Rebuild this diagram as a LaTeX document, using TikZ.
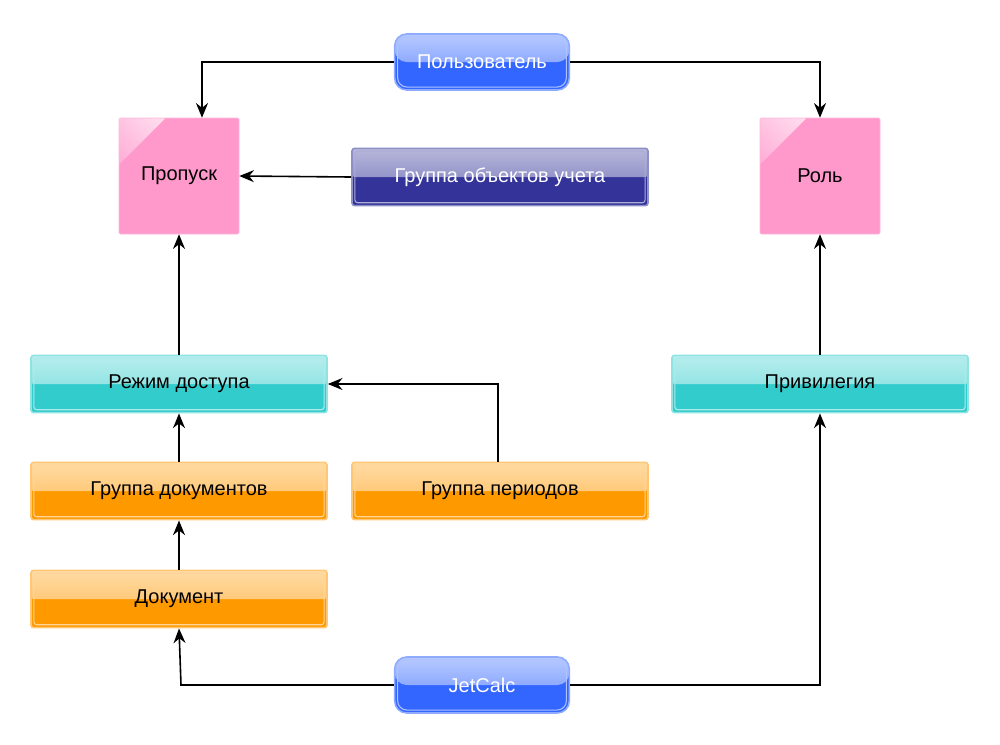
\documentclass[tikz,border=0pt]{standalone}
\usepackage{fontspec}
\setmainfont{Liberation Sans}
\usetikzlibrary{arrows.meta}
\definecolor{cblue}{HTML}{3366FF}
\definecolor{cnavy}{HTML}{333399}
\definecolor{cteal}{HTML}{33CCCC}
\definecolor{corange}{HTML}{FF9900}
\definecolor{cpink}{HTML}{FF99CC}
\tikzset{
  box/.style={minimum width=#1*0.75pt, text=black, font=\fontsize{15}{18}\selectfont, inner sep=0pt},
  glossy/.style={draw=#1!55, line width=1.2pt, fill=#1,
    path picture={
      \fill[top color=#1!35!white, bottom color=#1!70!white]
        (path picture bounding box.north west) rectangle ([yshift=0pt]path picture bounding box.east);
      \draw[white!60!#1, line width=0.8pt] ([shift={(2.2pt,-2.2pt)}]path picture bounding box.north west) rectangle ([shift={(-2.2pt,2.2pt)}]path picture bounding box.south east);
    }},
  rbox/.style={glossy=#1, minimum width=222pt, minimum height=43pt, rounded corners=2pt, font=\fontsize{15}{18}\selectfont, text=black},
  ubox/.style={draw=#1!55, line width=1.2pt, fill=#1, minimum height=42pt, rounded corners=9pt, text=white, font=\fontsize{15}{18}\selectfont,
    path picture={
      \fill[top color=#1!35!white, bottom color=#1!75!white]
        (path picture bounding box.north west) rectangle (path picture bounding box.east);
      \draw[white!60!#1, line width=0.8pt, rounded corners=7pt] ([shift={(2.2pt,-2.2pt)}]path picture bounding box.north west) rectangle ([shift={(-2.2pt,2.2pt)}]path picture bounding box.south east);
    }},
  pbox/.style={draw=cpink!70, fill=cpink, minimum width=90pt, minimum height=87pt, rounded corners=1pt, font=\fontsize{15}{18}\selectfont,
    path picture={\fill[left color=white, right color=cpink, shading angle=-45, opacity=0.9]
      (path picture bounding box.north west) -- ([xshift=35pt]path picture bounding box.north west) -- ([yshift=-35pt]path picture bounding box.north west) -- cycle;}},
  arr/.style={-{Stealth[length=11pt,width=9pt]}, line width=1.2pt}
}
\begin{document}
\begin{tikzpicture}[x=0.75pt,y=-0.75pt]
\useasboundingbox (0,0) rectangle (1000,744);
\node[ubox=cblue, minimum width=131pt] (user) at (482,62) {Пользователь};
\node[pbox] (prop) at (179,176) {Пропуск};
\node[pbox] (role) at (820,176) {Роль};
\node[rbox=cnavy, text=white] (gou) at (500,177) {Группа объектов учета};
\node[rbox=cteal] (rezh) at (179,384) {Режим доступа};
\node[rbox=cteal] (priv) at (820,384) {Привилегия};
\node[rbox=corange] (gdoc) at (179,491) {Группа документов};
\node[rbox=corange] (gper) at (500,491) {Группа периодов};
\node[rbox=corange] (doc) at (179,599) {Документ};
\node[ubox=cblue, minimum width=131pt] (jet) at (482,685) {JetCalc};
\coordinate (c1) at (202,62);
\coordinate (c2) at (820,62);
\coordinate (c3) at (498,384);
\coordinate (c4) at (181,685);
\coordinate (c5) at (820,685);
\draw[arr] (user.west) -- (c1) -- (prop.north -| c1);
\draw[arr] (user.east) -- (c2) -- (role.north);
\draw[arr] (gou.west) -- (prop.east);
\draw[arr] (rezh.north) -- (prop.south);
\draw[arr] (priv.north) -- (role.south);
\draw[arr] (gdoc.north) -- (rezh.south);
\draw[arr] (gper.north -| c3) -- (c3) -- (rezh.east);
\draw[arr] (doc.north) -- (gdoc.south);
\draw[arr] (jet.west) -- (c4) -- (doc.south);
\draw[arr] (jet.east) -- (c5) -- (priv.south);
\end{tikzpicture}
\end{document}
